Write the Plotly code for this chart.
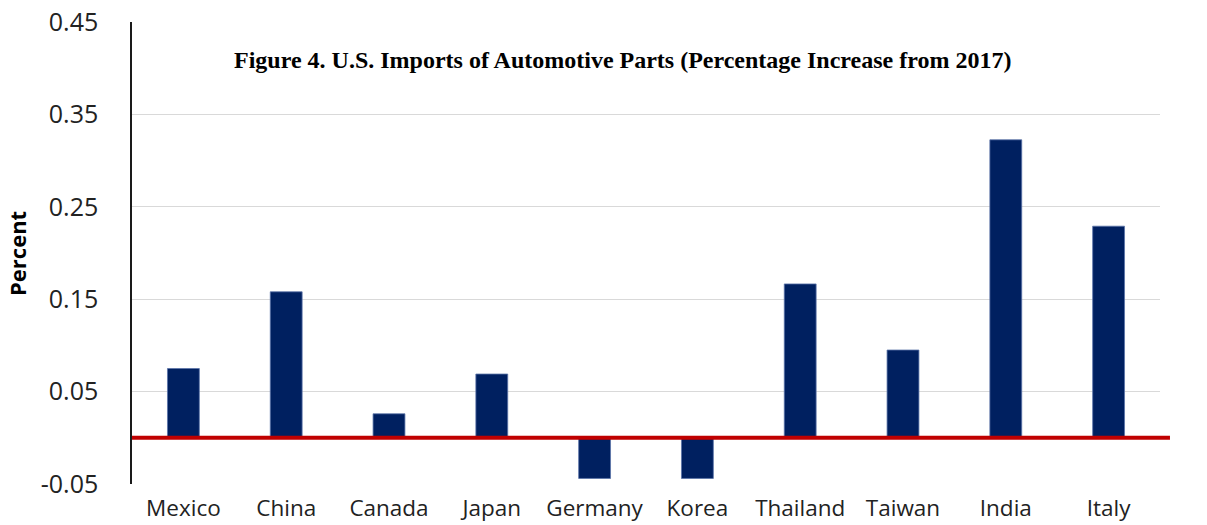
import plotly.graph_objects as go

categories = ["Mexico", "China", "Canada", "Japan", "Germany", "Korea", "Thailand", "Taiwan", "India", "Italy"]
values = [0.075, 0.158, 0.026, 0.069, -0.044, -0.044, 0.1665, 0.095, 0.3225, 0.229]
tick_vals = [-0.05, 0.05, 0.15, 0.25, 0.35, 0.45]
tick_text = ["-0.05", "0.05", "0.15", "0.25", "0.35", "0.45"]

fig = go.Figure()
fig.add_trace(go.Bar(
    x=categories, y=values,
    marker=dict(color="#002060", line=dict(color="#5a74a8", width=0.8)),
    width=0.31,
))

fig.add_shape(type="line", xref="paper", yref="y", x0=0, x1=1.0097, y0=0, y1=0,
              line=dict(color="#C00000", width=4), layer="above")

fig.update_layout(
    width=1207, height=525,
    margin=dict(l=132, r=47, t=22, b=41, autoexpand=False),
    paper_bgcolor="white", plot_bgcolor="white",
    showlegend=False,
    font=dict(family="Open Sans, Liberation Sans, sans-serif", color="#404040"),
    annotations=[
        dict(
            text="<b>Figure 4. U.S. Imports of Automotive Parts (Percentage Increase from 2017)</b>",
            xref="paper", yref="paper", x=0.477, y=0.918, showarrow=False,
            font=dict(family="Liberation Serif, Times New Roman, serif", size=24, color="black"),
            xanchor="center", yanchor="middle",
        ),
        dict(
            text="<b>Percent</b>",
            xref="paper", yref="paper", x=-0.1119, y=0.5, showarrow=False,
            textangle=-90, xanchor="center", yanchor="middle",
            font=dict(family="Open Sans, Liberation Sans, sans-serif", size=22, color="black"),
        ),
    ],
)
fig.update_yaxes(
    range=[-0.05, 0.45], tickvals=tick_vals, ticktext=tick_text,
    showgrid=True, gridcolor="#D9D9D9", gridwidth=1.2,
    zeroline=False, automargin=False,
    showline=True, linecolor="#1a1a1a", linewidth=1.5,
    ticks="", ticklabelstandoff=27,
    tickfont=dict(size=25, color="#222222"),
)
fig.update_xaxes(
    showgrid=False, showline=False, ticks="", automargin=False,
    ticklabelstandoff=8,
    tickfont=dict(size=22.5, color="#222222"),
)

fig.write_html("out.html")
